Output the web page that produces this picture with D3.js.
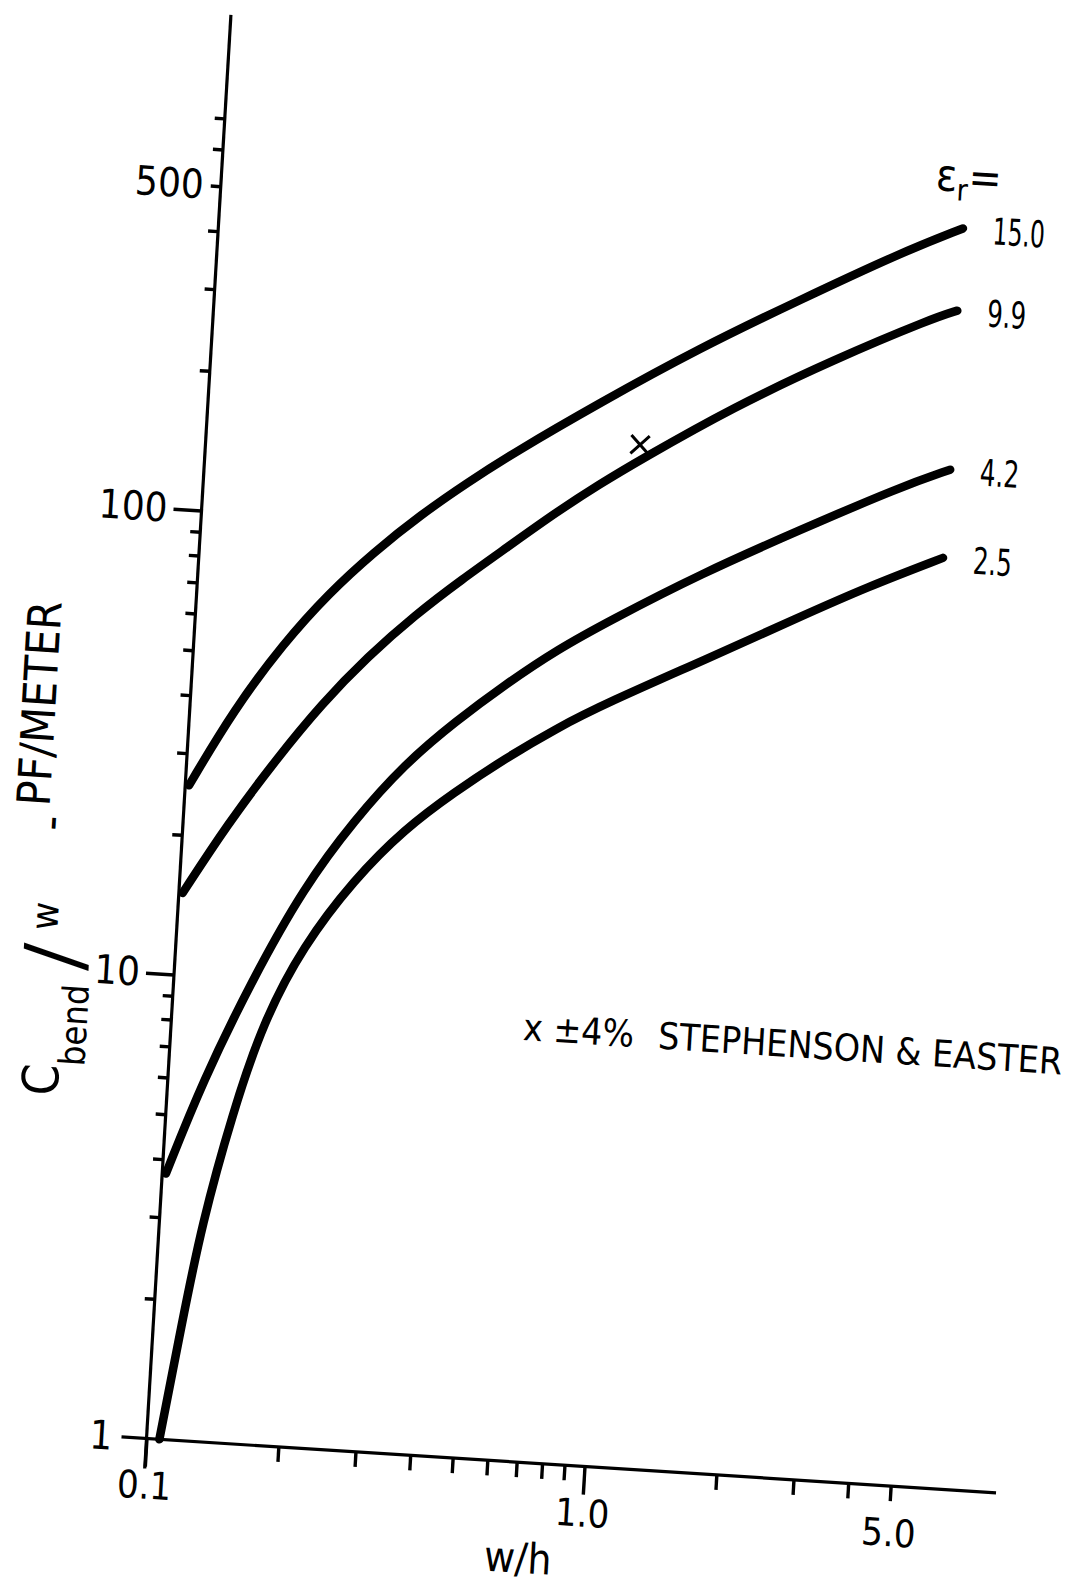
<!DOCTYPE html>
<html>
<head>
<meta charset="utf-8">
<script src="https://cdn.jsdelivr.net/npm/d3@7"></script>
<style>
  html, body { margin: 0; padding: 0; background: #fff; }
  svg { display: block; }
  text { font-family: "Liberation Sans Narrow", "DejaVu Sans Condensed", "Roboto Condensed", sans-serif; fill: #000; }
</style>
</head>
<body>
<svg id="chart" width="1078" height="1585"></svg>
<script>
// Relative permittivity of each curve (label at the curve end)
const epsilonLabels = ["15.0", "9.9", "4.2", "2.5"];

// C_bend / w  (pF/m) against w/h, one array per permittivity: [w/h, C]
const curveEps150 = [[0.102, 25.6], [0.126, 37.7], [0.16, 53.2], [0.2, 69.2], [0.25, 86],
  [0.316, 105], [0.4, 125], [0.5, 146], [0.778, 193], [1.29, 261], [2.15, 342], [3.58, 445],
  [4.94, 513]];
const curveEps99 = [[0.102, 15], [0.126, 21.3], [0.16, 30], [0.2, 40.1], [0.25, 51.2],
  [0.316, 63.8], [0.4, 77.3], [0.5, 91.6], [0.642, 111], [0.799, 129.3], [0.978, 147.4],
  [1.567, 197], [2.606, 257], [4.34, 326], [4.92, 341]];
const curveEps42 = [[0.102, 3.73], [0.12, 5.94], [0.151, 10], [0.192, 16], [0.245, 22.7],
  [0.314, 30.5], [0.404, 38.2], [0.52, 46.7], [0.672, 56.2], [0.878, 66], [1.39, 85.5],
  [2.31, 109.7], [3.85, 140], [4.98, 155]];
const curveEps25 = [[0.107, 1.0], [0.116, 1.77], [0.125, 2.94], [0.142, 5.15], [0.162, 8.15],
  [0.195, 12], [0.249, 16.9], [0.32, 22.1], [0.41, 26.9], [0.53, 32.3], [0.686, 38.1],
  [0.886, 43.9], [1.487, 56.5], [2.34, 70.9], [3.34, 84.5], [4.93, 100]];

// Measured point (Stephenson & Easter, ±4 %)
const measuredPoints = [[0.974, 159]];

// Axis ticks
const yLongTicks = [1, 10, 100];
const yShortTicks = [2, 3, 4, 5, 6, 7, 8, 9, 20, 30, 40, 50, 60, 70, 80, 90, 200, 300, 400, 500, 600, 700];
const yShortLabels = [500];
const xLongTicks = [0.1, 1];
const xShortTicks = [0.2, 0.3, 0.4, 0.5, 0.6, 0.7, 0.8, 0.9, 2, 3, 4, 5];
const xShortLabels = [5];

const curves = [curveEps150, curveEps99, curveEps42, curveEps25];

const svg = d3.select("#chart");

// log-log scales, 438 px per decade across, 464 px per decade up
const x = d3.scaleLog().domain([0.1, 10]).range([0, 876]);
const y = d3.scaleLog().domain([1, 1000]).range([0, -1392]);

// the sheet sits slightly turned on the page
const g = svg.append("g")
  .attr("transform", "matrix(1,0.0639,-0.0593,1,146.5,1438.5)");

// axis lines
g.append("line")
  .attr("x1", x(0.1) - 25).attr("y1", 0)
  .attr("x2", x(8.7)).attr("y2", 0)
  .attr("stroke", "#000").attr("stroke-width", 3.2);
g.append("line")
  .attr("x1", 0).attr("y1", 30)
  .attr("x2", 0).attr("y2", y(1170))
  .attr("stroke", "#000").attr("stroke-width", 3.2);

function styleAxis(sel, fontSize) {
  sel.select(".domain").remove();
  sel.selectAll(".tick line").attr("stroke", "#000").attr("stroke-width", 3.4);
  sel.selectAll(".tick text").attr("font-size", fontSize).attr("fill", "#000")
    .style("font-family", '"Liberation Sans Narrow","DejaVu Sans Condensed",sans-serif');
}

// y axis
g.append("g")
  .call(d3.axisLeft(y).tickValues(yLongTicks).tickSize(28).tickPadding(6)
    .tickFormat(d3.format("d")))
  .call(styleAxis, 40);
g.append("g")
  .call(d3.axisLeft(y).tickValues(yShortTicks).tickSize(10).tickPadding(7)
    .tickFormat(d => yShortLabels.includes(d) ? d3.format("d")(d) : ""))
  .call(styleAxis, 40);
// the "1" tick is the x axis itself
g.selectAll(".tick").filter(d => d === 1).select("line").remove();

// x axis
g.append("g")
  .call(d3.axisBottom(x).tickValues(xLongTicks).tickSize(28).tickPadding(5)
    .tickFormat(d3.format(".1f")))
  .call(styleAxis, 38);
g.append("g")
  .call(d3.axisBottom(x).tickValues(xShortTicks).tickSize(15).tickPadding(18)
    .tickFormat(d => xShortLabels.includes(d) ? d3.format(".1f")(d) : ""))
  .call(styleAxis, 38);

// curves
const line = d3.line()
  .x(d => x(d[0]))
  .y(d => y(d[1]))
  .curve(d3.curveBasis);

g.selectAll("path.curve")
  .data(curves)
  .join("path")
  .attr("class", "curve")
  .attr("d", line)
  .attr("fill", "none")
  .attr("stroke", "#000")
  .attr("stroke-width", 8.5)
  .attr("stroke-linecap", "round")
  .attr("stroke-linejoin", "round");

// permittivity labels at the curve ends
g.selectAll("text.eps")
  .data(curves)
  .join("text")
  .attr("class", "eps")
  .attr("x", d => x(d[d.length - 1][0]) + 30)
  .attr("y", d => y(d[d.length - 1][1]) + 14)
  .attr("font-size", 37)
  .attr("textLength", (d, i) => epsilonLabels[i].length * 13)
  .attr("lengthAdjust", "spacingAndGlyphs")
  .text((d, i) => epsilonLabels[i]);

// εr = heading
const epsHead = g.append("text")
  .attr("x", 712).attr("y", -1294)
  .attr("font-size", 44);
epsHead.append("tspan").text("ε");
epsHead.append("tspan").attr("font-size", 30).attr("dy", 9).text("r");
epsHead.append("tspan").attr("dy", -9).text("=");

// measured point marker
g.selectAll("path.marker")
  .data(measuredPoints)
  .join("path")
  .attr("class", "marker")
  .attr("transform", d => `translate(${x(d[0])},${y(d[1])})`)
  .attr("d", d3.symbol(d3.symbolX, 220)())
  .attr("fill", "none")
  .attr("stroke", "#000")
  .attr("stroke-width", 3);

// note
g.append("text")
  .attr("x", 351).attr("y", -421)
  .attr("font-size", 37)
  .text("x ±4%");
g.append("text")
  .attr("x", 486).attr("y", -421)
  .attr("font-size", 37)
  .attr("textLength", 404).attr("lengthAdjust", "spacingAndGlyphs")
  .text("STEPHENSON & EASTER");

// x axis title
g.append("text")
  .attr("x", 377).attr("y", 110)
  .attr("text-anchor", "middle")
  .attr("font-size", 42)
  .text("w/h");

// y axis title, in three rotated pieces
const yTitleQty = g.append("text")
  .attr("transform", "translate(-109,-335) rotate(-90)")
  .attr("text-anchor", "start")
  .attr("font-size", 50);
yTitleQty.append("tspan").text("C");
yTitleQty.append("tspan").attr("font-size", 36).attr("dy", 25).text("bend");
yTitleQty.append("tspan").attr("font-size", 80).attr("dx", 14).attr("dy", -9).text("/");
yTitleQty.append("tspan").attr("font-size", 38).attr("dx", 14).attr("dy", -26).text("w");

g.append("text")
  .attr("transform", "translate(-116,-607) rotate(-90)")
  .attr("text-anchor", "middle")
  .attr("font-size", 46)
  .text("-");

g.append("text")
  .attr("transform", "translate(-134,-828) rotate(-90)")
  .attr("text-anchor", "end")
  .attr("font-size", 46)
  .text("PF/METER");
</script>
</body>
</html>
